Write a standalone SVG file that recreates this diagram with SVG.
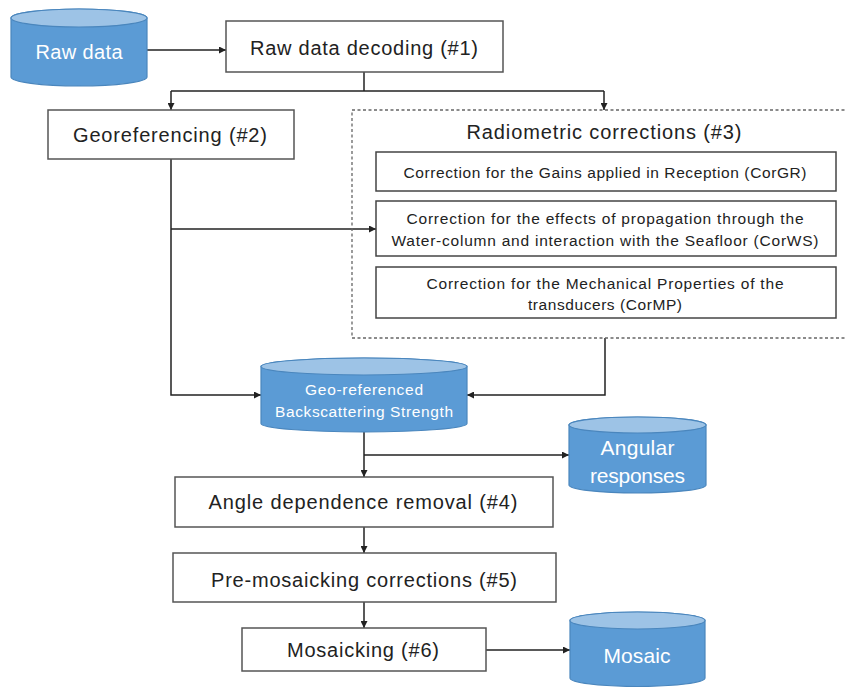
<svg xmlns="http://www.w3.org/2000/svg" width="846" height="687" viewBox="0 0 846 687">
<defs>
<marker id="arr" viewBox="0 0 10 10" refX="10" refY="5" markerWidth="8" markerHeight="7" markerUnits="userSpaceOnUse" orient="auto">
<path d="M0,0 L10,5 L0,10 Z" fill="#222"/>
</marker>
<style>
.box{fill:#fff;stroke:#555;stroke-width:1.5}
.sub{fill:#fff;stroke:#444;stroke-width:1.5}
.dash{fill:none;stroke:#666;stroke-width:1.3;stroke-dasharray:3 2.5}
.body{fill:#5b9bd5;stroke:#4a86bd;stroke-width:1.2}
.top{fill:#9dc3e6;stroke:#4a86bd;stroke-width:1.2}
.t{font-family:"Liberation Sans",Arial,sans-serif;fill:#222;text-anchor:middle;dominant-baseline:central}
.w{font-family:"Liberation Sans",Arial,sans-serif;fill:#fff;text-anchor:middle;dominant-baseline:central}
.s{font-size:15.5px}
.c{fill:none;stroke:#222;stroke-width:1.5}
.ca{fill:none;stroke:#222;stroke-width:1.5;marker-end:url(#arr)}
</style>
</defs>
<rect width="846" height="687" fill="#fff"/>

<g id="connectors">
<path class="ca" d="M147,50 H226"/>
<path class="c" d="M364,72 V91"/>
<path class="c" d="M171,91 H604"/>
<path class="ca" d="M171,91 V110"/>
<path class="ca" d="M604,91 V110"/>
<path class="ca" d="M171,159 V395 H261"/>
<path class="ca" d="M171,229 H376"/>
<path class="ca" d="M605,338 V395 H467"/>
<path class="ca" d="M364,432 V477"/>
<path class="ca" d="M364,455 H569"/>
<path class="ca" d="M364,527 V553"/>
<path class="ca" d="M364,602 V628"/>
<path class="ca" d="M486,650 H570"/>
</g>

<g id="raw-data">
<path class="body" d="M11,18 A68,9 0 0 1 147,18 L147,77 A68,9 0 0 1 11,77 Z"/>
<ellipse class="top" cx="79" cy="18" rx="68" ry="9"/>
<text class="w" x="79" y="52" font-size="20" textLength="87">Raw data</text>
</g>

<g id="decoding">
<rect class="box" x="226" y="21" width="277" height="51"/>
<text class="t" x="364" y="48" font-size="20" textLength="228">Raw data decoding (#1)</text>
</g>

<g id="georeferencing">
<rect class="box" x="48" y="110" width="246" height="49"/>
<text class="t" x="170" y="135" font-size="20" textLength="194">Georeferencing (#2)</text>
</g>

<g id="radiometric">
<path class="dash" d="M850,110 H352 V338 H850"/>
<text class="t" x="604" y="132" font-size="20" textLength="275">Radiometric corrections (#3)</text>
<g id="corgr">
<rect class="sub" x="376" y="152" width="460" height="39"/>
<text class="t s" x="605" y="172" textLength="403">Correction for the Gains applied in Reception (CorGR)</text>
</g>
<g id="corws">
<rect class="sub" x="376" y="201" width="460" height="55"/>
<text class="t s" x="605" y="218" textLength="397">Correction for the effects of propagation through the</text>
<text class="t s" x="605" y="240" textLength="427">Water-column and interaction with the Seafloor (CorWS)</text>
</g>
<g id="cormp">
<rect class="sub" x="376" y="267" width="460" height="51"/>
<text class="t s" x="605" y="283" textLength="357">Correction for the Mechanical Properties of the</text>
<text class="t s" x="605" y="304" textLength="154">transducers (CorMP)</text>
</g>
</g>

<g id="geo-bs">
<path class="body" d="M261,366.5 A103,8.5 0 0 1 467,366.5 L467,423.5 A103,8.5 0 0 1 261,423.5 Z"/>
<ellipse class="top" cx="364" cy="366.5" rx="103" ry="8.5"/>
<text class="w" x="364" y="389" font-size="15.5" textLength="118">Geo-referenced</text>
<text class="w" x="364" y="411" font-size="15.5" textLength="178">Backscattering Strength</text>
</g>

<g id="angular">
<path class="body" d="M569,425 A68.5,8 0 0 1 706,425 L706,485 A68.5,8 0 0 1 569,485 Z"/>
<ellipse class="top" cx="637.5" cy="425" rx="68.5" ry="8"/>
<text class="w" x="637.5" y="447" font-size="21" textLength="74">Angular</text>
<text class="w" x="637.5" y="475" font-size="21" textLength="95">responses</text>
</g>

<g id="angle-removal">
<rect class="box" x="175" y="477" width="378" height="50"/>
<text class="t" x="363" y="502" font-size="20" textLength="309">Angle dependence removal (#4)</text>
</g>

<g id="pre-mosaicking">
<rect class="box" x="173" y="553" width="383" height="49"/>
<text class="t" x="364" y="580" font-size="20" textLength="306">Pre-mosaicking corrections (#5)</text>
</g>

<g id="mosaicking">
<rect class="box" x="242" y="628" width="244" height="43"/>
<text class="t" x="363" y="650" font-size="20" textLength="152">Mosaicking (#6)</text>
</g>

<g id="mosaic">
<path class="body" d="M570,620.5 A67.5,8.5 0 0 1 705,620.5 L705,678 A67.5,8.5 0 0 1 570,678 Z"/>
<ellipse class="top" cx="637.5" cy="620.5" rx="67.5" ry="8.5"/>
<text class="w" x="637" y="655" font-size="21" textLength="67">Mosaic</text>
</g>
</svg>
